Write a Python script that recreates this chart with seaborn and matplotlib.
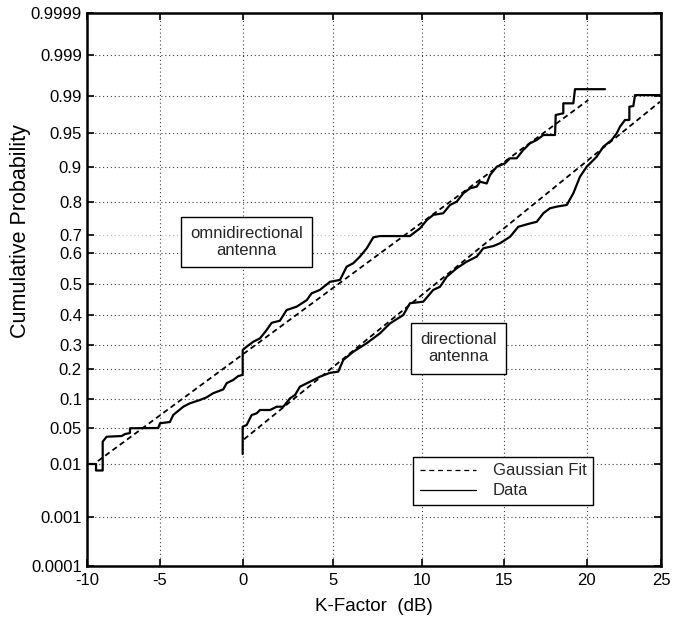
import numpy as np
import seaborn as sns
import matplotlib.pyplot as plt
from matplotlib.lines import Line2D
from matplotlib.ticker import FixedLocator, FixedFormatter

# tick values of both axes
k_ticks = [-10, -5, 0, 5, 10, 15, 20, 25]
k_labels = ["-10", "-5", "0", "5", "10", "15", "20", "25"]
p_ticks = [0.0001, 0.001, 0.01, 0.05, 0.1, 0.2, 0.3, 0.4, 0.5,
           0.6, 0.7, 0.8, 0.9, 0.95, 0.99, 0.999, 0.9999]
p_labels = ["0.0001", "0.001", "0.01", "0.05", "0.1", "0.2", "0.3", "0.4", "0.5",
            "0.6", "0.7", "0.8", "0.9", "0.95", "0.99", "0.999", "0.9999"]

# probability paper used in the original: tick spacing is not uniform,
# so the scales are calibrated on where each tick sits
k_scale = [0, 72.5, 155.2, 245.2, 334.8, 416.8, 499.2, 573.5]
p_scale = [0, 49, 102, 138, 167.5, 197, 221, 251, 282,
           313.5, 331, 364, 399, 433, 470, 511, 553]

# omnidirectional antenna, measured CDF
omni_k = [-9.90, -9.41, -9.41, -8.95, -8.95, -8.68, -7.64, -7.41, -7.07, -7.07,
          -5.12, -5.0, -4.40, -4.20, -3.59, -3.19, -2.58, -2.18, -1.78, -1.17,
          -0.97, -0.57, -0.27, 0.0, 0.0, 0.22, 0.59, 0.96, 1.33, 1.61,
          2.07, 2.44, 3.00, 3.56, 3.83, 4.29, 4.85, 5.41, 5.78, 6.15,
          6.52, 6.90, 7.27, 7.64, 9.31, 9.50, 9.87, 10.27, 10.67, 11.28,
          11.69, 12.10, 12.50, 12.91, 13.32, 13.52, 13.93, 14.13, 14.54, 15.04,
          15.35, 15.75, 16.15, 16.56, 16.97, 17.37, 18.08, 18.12, 18.58, 18.58,
          19.19, 19.29, 21.23]
omni_p = [0.010, 0.010, 0.0089, 0.0089, 0.0348, 0.0403, 0.0411, 0.0433, 0.0444, 0.0497,
          0.050, 0.058, 0.0602, 0.072, 0.0861, 0.0919, 0.0975, 0.104, 0.118, 0.131,
          0.152, 0.163, 0.176, 0.180, 0.279, 0.293, 0.311, 0.322, 0.35, 0.374,
          0.381, 0.416, 0.427, 0.448, 0.470, 0.481, 0.507, 0.513, 0.555, 0.566,
          0.587, 0.624, 0.687, 0.694, 0.694, 0.705, 0.720, 0.745, 0.761, 0.766,
          0.791, 0.801, 0.825, 0.839, 0.844, 0.858, 0.853, 0.877, 0.9004, 0.9054,
          0.9128, 0.9128, 0.925, 0.9349, 0.9397, 0.9471, 0.9471, 0.9695, 0.9713, 0.9821,
          0.9821, 0.9915, 0.9915]

# directional antenna, measured CDF
dir_k = [0.0, 0.0, 0.22, 0.50, 0.78, 0.96, 1.52, 1.89, 2.26, 2.63,
         2.91, 3.18, 3.74, 4.29, 4.85, 5.31, 5.59, 6.15, 6.90, 7.64,
         8.20, 8.94, 9.31, 10.06, 10.67, 11.08, 11.49, 12.10, 12.71, 13.32,
         13.72, 14.33, 14.74, 15.35, 15.85, 16.56, 16.97, 17.37, 17.77, 18.18,
         18.79, 19.19, 19.59, 20.0, 20.34, 20.67, 21.12, 21.68, 22.02, 22.24,
         22.58, 22.87, 22.87, 23.14, 23.25, 24.93]
dir_p = [0.0211, 0.0522, 0.0551, 0.072, 0.0749, 0.0805, 0.0805, 0.0861, 0.0861, 0.1007,
         0.112, 0.140, 0.157, 0.174, 0.187, 0.191, 0.2375, 0.272, 0.306, 0.339,
         0.372, 0.400, 0.438, 0.443, 0.481, 0.491, 0.523, 0.550, 0.571, 0.587,
         0.624, 0.637, 0.653, 0.690, 0.725, 0.735, 0.740, 0.766, 0.781, 0.786,
         0.791, 0.825, 0.872, 0.9004, 0.9078, 0.9151, 0.9299, 0.9397, 0.9496, 0.9568,
         0.9641, 0.9641, 0.9784, 0.9792, 0.9902, 0.9902]

# Gaussian fits (end points)
omni_fit_k = [-9.28, 20.11]
omni_fit_p = [0.0133, 0.9857]
dir_fit_k = [0.07, 24.93]
dir_fit_p = [0.0374, 0.9838]


def fwd_k(x):
    return np.interp(x, k_ticks, k_scale)

def inv_k(u):
    return np.interp(u, k_scale, k_ticks)

def fwd_p(p):
    return np.interp(p, p_ticks, p_scale)

def inv_p(u):
    return np.interp(u, p_scale, p_ticks)


sns.set_theme(style="white")
plt.rcParams["font.family"] = ["Liberation Sans", "DejaVu Sans"]

fig, ax = plt.subplots(figsize=(6.92, 6.2), dpi=100)
fig.subplots_adjust(left=0.1264, right=0.9552, top=0.979, bottom=0.0871)

fit_dash = (0, (3, 2))
sns.lineplot(x=omni_fit_k, y=omni_fit_p, estimator=None, sort=False,
             color="black", lw=1.3, ax=ax)
ax.lines[-1].set_linestyle(fit_dash)
sns.lineplot(x=dir_fit_k, y=dir_fit_p, estimator=None, sort=False,
             color="black", lw=1.3, ax=ax)
ax.lines[-1].set_linestyle(fit_dash)
sns.lineplot(x=omni_k, y=omni_p, estimator=None, sort=False,
             color="black", lw=1.6, ax=ax)
sns.lineplot(x=dir_k, y=dir_p, estimator=None, sort=False,
             color="black", lw=1.6, ax=ax)

ax.set_xscale("function", functions=(fwd_k, inv_k))
ax.set_yscale("function", functions=(fwd_p, inv_p))
ax.set_xlim(-10, 25)
ax.set_ylim(0.0001, 0.9999)

ax.xaxis.set_major_locator(FixedLocator(k_ticks))
ax.xaxis.set_major_formatter(FixedFormatter(k_labels))
ax.xaxis.set_minor_locator(FixedLocator([]))
ax.yaxis.set_major_locator(FixedLocator(p_ticks))
ax.yaxis.set_major_formatter(FixedFormatter(p_labels))
ax.yaxis.set_minor_locator(FixedLocator([]))

ax.tick_params(axis="both", which="major", direction="in", length=5, width=1.2,
               color="black", labelsize=12, labelcolor="black",
               top=True, right=True, left=True, bottom=True)
ax.tick_params(axis="y", pad=4)
ax.tick_params(axis="x", pad=5)

ax.grid(True, which="major", color="0.25", lw=0.8, ls=(0, (1, 2.5)))
gl = ax.get_ygridlines()
if len(gl) > 10:
    gl[10].set_alpha(0.35)

for s in ax.spines.values():
    s.set_color("black")
    s.set_linewidth(1.8)
    s.set_visible(True)

ax.set_xlabel("K-Factor  (dB)", fontsize=13.5, color="black")
ax.xaxis.set_label_coords(0.5, -0.057)
ax.set_ylabel("Cumulative Probability", fontsize=15.5, color="black")
ax.yaxis.set_label_coords(-0.099, 0.605)

box = dict(boxstyle="square,pad=0.55", fc="white", ec="black", lw=1.0)
ax.text(0.278, 0.586, "omnidirectional\nantenna", transform=ax.transAxes,
        ha="center", va="center", fontsize=12, bbox=box, zorder=5)
ax.text(0.6474, 0.3937, "directional\nantenna", transform=ax.transAxes,
        ha="center", va="center", fontsize=12, bbox=box, zorder=5)

handles = [Line2D([], [], color="black", lw=0.9, ls=(0, (4, 3))),
           Line2D([], [], color="black", lw=0.9)]
leg = ax.legend(handles, ["Gaussian Fit", "Data"], loc="lower left",
                bbox_to_anchor=(0.5676, 0.1103), borderaxespad=0,
                fontsize=12, handlelength=3.4, handletextpad=1.0,
                borderpad=0.4, labelspacing=0.3, fancybox=False,
                framealpha=1, edgecolor="black")
leg.get_frame().set_linewidth(1.0)
leg.set_zorder(6)

fig.savefig("out.png", dpi=100)
